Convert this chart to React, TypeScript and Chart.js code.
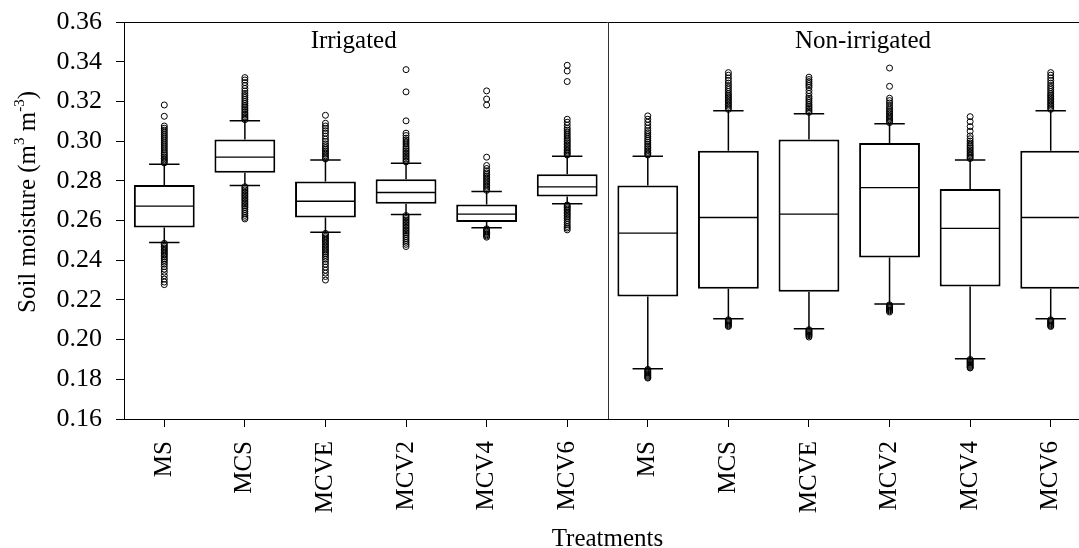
import React, { useEffect, useRef } from 'react';
import { Chart, registerables } from 'chart.js';

Chart.register(...registerables);

const FONT = '"Liberation Serif", "Times New Roman", Times, serif';

// ---- data ----
const categories = ['MS', 'MCS', 'MCVE', 'MCV2', 'MCV4', 'MCV6', 'MS', 'MCS', 'MCVE', 'MCV2', 'MCV4', 'MCV6'];
const groups = ['Irrigated', 'Non-irrigated'];

const whiskerLow = [0.2489, 0.2776, 0.2541, 0.2630, 0.2563, 0.2684, 0.1853, 0.2105, 0.2055, 0.2179, 0.1904, 0.2105];
const q1 = [0.2565, 0.2841, 0.2615, 0.2684, 0.2593, 0.2721, 0.2217, 0.2256, 0.2241, 0.2413, 0.2268, 0.2256];
const median = [0.2672, 0.2919, 0.2697, 0.2741, 0.2632, 0.2769, 0.2536, 0.2615, 0.2632, 0.2766, 0.2560, 0.2615];
const q3 = [0.2779, 0.3008, 0.2796, 0.2808, 0.2680, 0.2833, 0.2776, 0.2952, 0.3008, 0.2991, 0.2759, 0.2952];
const whiskerHigh = [0.2884, 0.3103, 0.2905, 0.2889, 0.2746, 0.2924, 0.2924, 0.3153, 0.3138, 0.3087, 0.2905, 0.3153];

const outIrrMS = [0.2890, 0.2898, 0.2905, 0.2912, 0.2920, 0.2928, 0.2936, 0.2945, 0.2955, 0.2965, 0.2975, 0.2985, 0.2995, 0.3005, 0.3015, 0.3025, 0.3035, 0.3045, 0.3055, 0.3065, 0.3076, 0.3125, 0.3182,
  0.2485, 0.2478, 0.2470, 0.2462, 0.2455, 0.2447, 0.2440, 0.2432, 0.2425, 0.2417, 0.2408, 0.2400, 0.2390, 0.2380, 0.2368, 0.2355, 0.2340, 0.2322, 0.2305, 0.2290, 0.2277];
const outIrrMCS = [0.3108, 0.3115, 0.3122, 0.3130, 0.3138, 0.3146, 0.3155, 0.3163, 0.3172, 0.3180, 0.3190, 0.3200, 0.3210, 0.3220, 0.3230, 0.3240, 0.3252, 0.3265, 0.3280, 0.3295, 0.3308, 0.3320,
  0.2770, 0.2762, 0.2754, 0.2746, 0.2738, 0.2730, 0.2722, 0.2714, 0.2706, 0.2698, 0.2690, 0.2682, 0.2674, 0.2666, 0.2656, 0.2646, 0.2636, 0.2626, 0.2616, 0.2608];
const outIrrMCVE = [0.2910, 0.2918, 0.2926, 0.2934, 0.2942, 0.2950, 0.2958, 0.2966, 0.2976, 0.2986, 0.2998, 0.3010, 0.3025, 0.3040, 0.3052, 0.3064, 0.3076, 0.3090, 0.3130,
  0.2535, 0.2528, 0.2520, 0.2512, 0.2505, 0.2497, 0.2490, 0.2482, 0.2474, 0.2466, 0.2458, 0.2450, 0.2442, 0.2434, 0.2425, 0.2415, 0.2405, 0.2393, 0.2380, 0.2365, 0.2350, 0.2335, 0.2318, 0.2300];
const outIrrMCV2 = [0.2895, 0.2902, 0.2910, 0.2918, 0.2926, 0.2934, 0.2942, 0.2950, 0.2958, 0.2966, 0.2975, 0.2985, 0.2995, 0.3005, 0.3015, 0.3028, 0.3040, 0.3102, 0.3248, 0.3360,
  0.2625, 0.2618, 0.2610, 0.2602, 0.2594, 0.2586, 0.2578, 0.2570, 0.2562, 0.2554, 0.2546, 0.2538, 0.2530, 0.2520, 0.2510, 0.2500, 0.2490, 0.2480, 0.2469];
const outIrrMCV4 = [0.2752, 0.2760, 0.2768, 0.2776, 0.2784, 0.2792, 0.2800, 0.2808, 0.2816, 0.2824, 0.2832, 0.2840, 0.2850, 0.2862, 0.2877, 0.2919, 0.3182, 0.3212, 0.3253,
  0.2558, 0.2552, 0.2546, 0.2540, 0.2534, 0.2528, 0.2522, 0.2516];
const outIrrMCV6 = [0.2930, 0.2937, 0.2944, 0.2951, 0.2958, 0.2966, 0.2974, 0.2982, 0.2990, 0.2998, 0.3006, 0.3015, 0.3025, 0.3035, 0.3045, 0.3055, 0.3065, 0.3080, 0.3095, 0.3110, 0.3300, 0.3353, 0.3382,
  0.2678, 0.2671, 0.2664, 0.2657, 0.2650, 0.2642, 0.2634, 0.2626, 0.2618, 0.2610, 0.2600, 0.2590, 0.2580, 0.2570, 0.2562, 0.2553];
const outNonMS = [0.2930, 0.2937, 0.2944, 0.2952, 0.2960, 0.2968, 0.2976, 0.2985, 0.2994, 0.3003, 0.3012, 0.3022, 0.3032, 0.3042, 0.3052, 0.3065, 0.3080, 0.3095, 0.3110, 0.3127,
  0.1850, 0.1845, 0.1840, 0.1835, 0.1830, 0.1825, 0.1820, 0.1815, 0.1810, 0.1806];
const outNonMCS = [0.3160, 0.3168, 0.3176, 0.3184, 0.3192, 0.3200, 0.3208, 0.3216, 0.3224, 0.3232, 0.3240, 0.3250, 0.3260, 0.3270, 0.3280, 0.3292, 0.3305, 0.3318, 0.3332, 0.3345,
  0.2100, 0.2095, 0.2090, 0.2085, 0.2080, 0.2075, 0.2070, 0.2066];
const outNonMCVE = [0.3145, 0.3152, 0.3160, 0.3168, 0.3176, 0.3185, 0.3195, 0.3205, 0.3215, 0.3225, 0.3240, 0.3255, 0.3270, 0.3280, 0.3290, 0.3300, 0.3310, 0.3322,
  0.2050, 0.2045, 0.2040, 0.2035, 0.2030, 0.2025, 0.2020, 0.2013];
const outNonMCV2 = [0.3093, 0.3100, 0.3107, 0.3114, 0.3121, 0.3128, 0.3136, 0.3144, 0.3152, 0.3160, 0.3170, 0.3180, 0.3192, 0.3204, 0.3216, 0.3276, 0.3368,
  0.2175, 0.2170, 0.2165, 0.2160, 0.2155, 0.2150, 0.2145, 0.2139];
const outNonMCV4 = [0.2912, 0.2919, 0.2926, 0.2933, 0.2940, 0.2948, 0.2956, 0.2964, 0.2972, 0.2980, 0.2990, 0.3000, 0.3012, 0.3026, 0.3050, 0.3073, 0.3098, 0.3123,
  0.1900, 0.1895, 0.1890, 0.1885, 0.1880, 0.1875, 0.1870, 0.1865, 0.1860, 0.1857];
const outNonMCV6 = [0.3160, 0.3168, 0.3176, 0.3184, 0.3192, 0.3200, 0.3208, 0.3216, 0.3224, 0.3232, 0.3240, 0.3250, 0.3260, 0.3270, 0.3280, 0.3292, 0.3305, 0.3318, 0.3332, 0.3345,
  0.2100, 0.2095, 0.2090, 0.2085, 0.2080, 0.2075, 0.2070, 0.2066];

const outliers = [outIrrMS, outIrrMCS, outIrrMCVE, outIrrMCV2, outIrrMCV4, outIrrMCV6,
  outNonMS, outNonMCS, outNonMCVE, outNonMCV2, outNonMCV4, outNonMCV6];

// group label anchors, in category units
const GROUP_LABEL_AT = [2.35, 8.67];
const DIVIDER_AT = 5.5;

const boxDecor = {
  id: 'boxDecor',
  afterDatasetsDraw(chart: any) {
    const { ctx, chartArea, scales } = chart;
    const x = scales.x;
    const y = scales.y;
    const meta = chart.getDatasetMeta(1);
    ctx.save();
    ctx.strokeStyle = '#000';
    ctx.lineCap = 'butt';
    meta.data.forEach((bar: any, i: number) => {
      const cx = x.getPixelForValue(i);
      const half = bar.width / 2;
      const capHalf = half / 2;
      const yMed = y.getPixelForValue(median[i]);
      const yQ1 = y.getPixelForValue(q1[i]);
      const yQ3 = y.getPixelForValue(q3[i]);
      const yLo = y.getPixelForValue(whiskerLow[i]);
      const yHi = y.getPixelForValue(whiskerHigh[i]);
      ctx.lineWidth = 1.3;
      ctx.beginPath();
      ctx.moveTo(cx - half + 1, yMed);
      ctx.lineTo(cx + half - 1, yMed);
      ctx.stroke();
      ctx.lineWidth = 1.5;
      ctx.beginPath();
      ctx.moveTo(cx, yQ3);
      ctx.lineTo(cx, yHi);
      ctx.moveTo(cx - capHalf, yHi);
      ctx.lineTo(cx + capHalf, yHi);
      ctx.moveTo(cx, yQ1);
      ctx.lineTo(cx, yLo);
      ctx.moveTo(cx - capHalf, yLo);
      ctx.lineTo(cx + capHalf, yLo);
      ctx.stroke();
    });

    // top frame line and group divider
    ctx.lineWidth = 1;
    ctx.strokeStyle = '#000';
    ctx.beginPath();
    ctx.moveTo(chartArea.left, chartArea.top + 0.5);
    ctx.lineTo(chartArea.right, chartArea.top + 0.5);
    ctx.stroke();
    const xd = Math.round(x.getPixelForValue(DIVIDER_AT)) + 0.5;
    ctx.strokeStyle = '#333';
    ctx.beginPath();
    ctx.moveTo(xd, chartArea.top);
    ctx.lineTo(xd, chartArea.bottom);
    ctx.stroke();

    // group labels
    ctx.fillStyle = '#000';
    ctx.font = '25px ' + FONT;
    ctx.textAlign = 'center';
    ctx.textBaseline = 'alphabetic';
    groups.forEach((g, i) => {
      ctx.fillText(g, x.getPixelForValue(GROUP_LABEL_AT[i]), chartArea.top + 26);
    });

    // x title
    ctx.fillText('Treatments', (chartArea.left + chartArea.right) / 2, 546);

    // y title with superscripts
    ctx.save();
    ctx.translate(35, 313);
    ctx.rotate(-Math.PI / 2);
    ctx.textAlign = 'left';
    const main = '25px ' + FONT;
    const sup = '15px ' + FONT;
    const parts: [string, string, number][] = [
      ['Soil moisture (m', main, 0],
      ['3', sup, -11],
      [' m', main, 0],
      ['-3', sup, -11],
      [')', main, 0],
    ];
    let px = 0;
    parts.forEach(([t, f, dy]) => {
      ctx.font = f;
      ctx.fillText(t, px, dy);
      px += ctx.measureText(t).width;
    });
    ctx.restore();
    ctx.restore();
  },
};

export default function App() {
  const ref = useRef<HTMLCanvasElement>(null);
  useEffect(() => {
    const outlierPoints = outliers.flatMap((arr, i) => arr.map((v) => ({ x: i, y: v })));
    const chart = new Chart(ref.current as HTMLCanvasElement, {
      type: 'bar',
      data: {
        labels: categories,
        datasets: [
          {
            type: 'scatter',
            data: outlierPoints as any,
            parsing: false,
            showLine: false,
            pointStyle: 'circle',
            pointRadius: 3,
            pointBorderWidth: 1,
            pointBorderColor: '#000',
            pointBackgroundColor: 'rgba(0,0,0,0)',
          } as any,
          {
            type: 'bar',
            data: q1.map((v, i) => [v, q3[i]]) as any,
            backgroundColor: '#fff',
            borderColor: '#000',
            borderWidth: 2,
            borderSkipped: false,
            categoryPercentage: 1,
            barPercentage: 0.755,
          } as any,
        ],
      },
      options: {
        animation: false,
        responsive: true,
        maintainAspectRatio: false,
        layout: { padding: { top: 22, right: 9, bottom: 0, left: 0 } },
        plugins: { legend: { display: false }, tooltip: { enabled: false } },
        scales: {
          x: {
            type: 'category',
            offset: true,
            grid: { offset: false, drawOnChartArea: false, drawTicks: true, tickLength: 8, tickColor: '#000', tickWidth: 1 },
            border: { display: true, color: '#000', width: 1 },
            ticks: { autoSkip: false, maxRotation: 90, minRotation: 90, padding: 14, color: '#000', font: { family: FONT, size: 25 } },
            afterFit: (s: any) => { s.height = 129; s.paddingLeft = 0; s.paddingRight = 0; },
          },
          y: {
            type: 'linear',
            min: 0.16,
            max: 0.36,
            grid: { drawOnChartArea: false, drawTicks: true, tickLength: 8, tickColor: '#000', tickWidth: 1 },
            border: { display: true, color: '#000', width: 1 },
            ticks: { stepSize: 0.02, padding: 14, color: '#000', font: { family: FONT, size: 26 }, callback: (v: any) => Number(v).toFixed(2) },
            afterFit: (s: any) => { s.width = 124; s.paddingTop = 0; s.paddingBottom = 0; },
          },
        },
      } as any,
      plugins: [boxDecor],
    });
    return () => chart.destroy();
  }, []);
  return (
    <div style={{ position: 'fixed', left: 0, top: 0, width: '100vw', height: '100vh', overflow: 'hidden', background: '#fff' }}>
      <div style={{ position: 'relative', width: 1100, height: 548 }}>
        <canvas ref={ref} />
      </div>
    </div>
  );
}
